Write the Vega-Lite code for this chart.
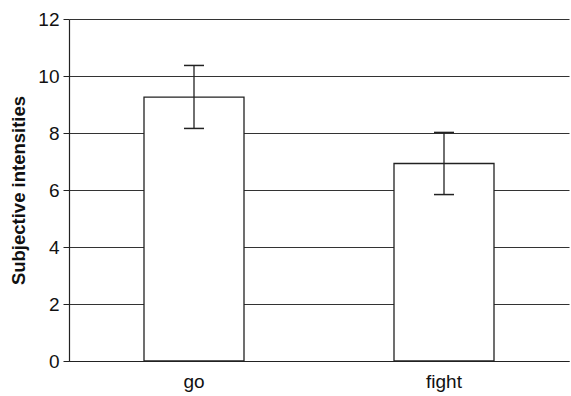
{
  "$schema": "https://vega.github.io/schema/vega-lite/v6.json",
  "autosize": "none",
  "width": 500,
  "height": 342,
  "padding": {"left": 69, "top": 19, "right": 2, "bottom": 35},
  "background": "white",
  "data": {"values": [
    {"condition": "go", "mean": 9.26, "lo": 8.16, "hi": 10.37},
    {"condition": "fight", "mean": 6.93, "lo": 5.84, "hi": 8.02}
  ]},
  "config": {
    "view": {"stroke": null},
    "font": "Liberation Sans"
  },
  "encoding": {
    "x": {
      "field": "condition", "type": "nominal", "sort": ["go", "fight"],
      "scale": {"paddingInner": 0, "paddingOuter": 0},
      "axis": {
        "title": null, "labelAngle": 0, "labelFontSize": 19, "labelColor": "#111",
        "ticks": false, "labelPadding": 11, "domainColor": "#222", "domainWidth": 1.2,
        "labelFont": "Liberation Sans"
      }
    }
  },
  "layer": [
    {
      "mark": {"type": "bar", "fill": "white", "stroke": "#222", "strokeWidth": 1.3, "size": 100},
      "encoding": {
        "y": {
          "field": "mean", "type": "quantitative",
          "scale": {"domain": [0, 12], "nice": false},
          "axis": {
            "title": "Subjective intensities", "titleFontSize": 18.5, "titleFontWeight": "bold",
            "titleColor": "#111", "titlePadding": 9, "titleFont": "Liberation Sans",
            "values": [0, 2, 4, 6, 8, 10, 12], "labelFontSize": 19, "labelColor": "#111",
            "labelFont": "Liberation Sans",
            "tickSize": 6, "tickColor": "#222", "labelPadding": 4,
            "grid": true, "gridColor": "#333", "gridWidth": 1.2, "gridOpacity": 1,
            "domainColor": "#222", "domainWidth": 1.2
          }
        }
      }
    },
    {
      "mark": {"type": "rule", "stroke": "#222", "strokeWidth": 1.3},
      "encoding": {
        "y": {"field": "lo", "type": "quantitative"},
        "y2": {"field": "hi"}
      }
    },
    {
      "mark": {"type": "tick", "color": "#222", "size": 20, "thickness": 1.5, "opacity": 1},
      "encoding": {"y": {"field": "lo", "type": "quantitative"}}
    },
    {
      "mark": {"type": "tick", "color": "#222", "size": 20, "thickness": 1.5, "opacity": 1},
      "encoding": {"y": {"field": "hi", "type": "quantitative"}}
    }
  ]
}
